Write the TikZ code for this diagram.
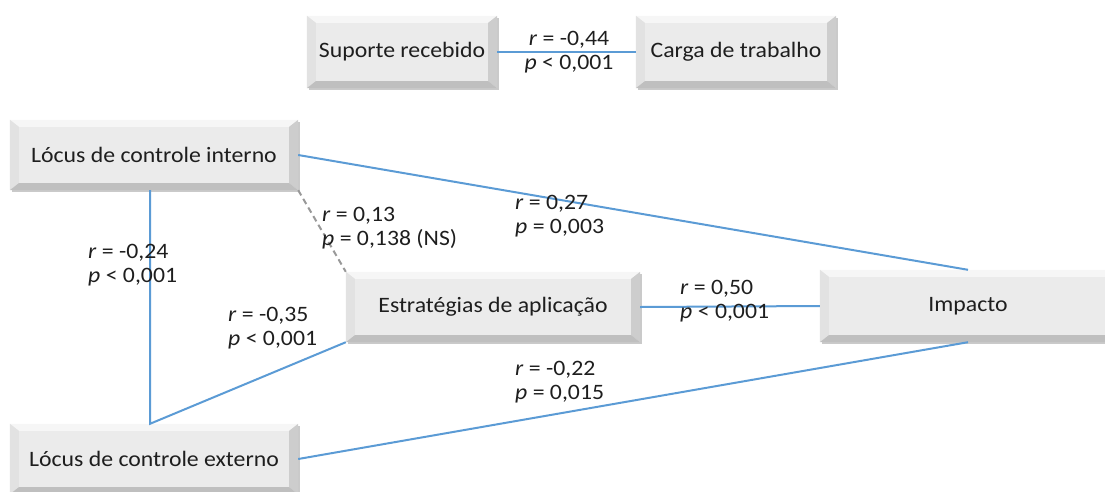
\documentclass[tikz,border=0pt]{standalone}
\usepackage{fontspec}
\setmainfont{Carlito}[FakeStretch=1.08]
\usetikzlibrary{shadows}
\definecolor{face}{HTML}{EBEBEB}
\definecolor{bvtop}{HTML}{F6F6F6}
\definecolor{bvleft}{HTML}{E2E2E2}
\definecolor{bvright}{HTML}{CDCDCD}
\definecolor{bvbot}{HTML}{BFBFBF}
\definecolor{linkblue}{HTML}{5B9BD5}
\definecolor{txt}{HTML}{1E1E1E}
\newcommand\bw{9}
\newcommand\bh{7}
\newcommand\bevel[1]{%
  \fill[bvtop] (#1.north west) -- (#1.north east) -- ([shift={(-\bw,\bh)}]#1.north east) -- ([shift={(\bw,\bh)}]#1.north west) -- cycle;
  \fill[bvleft] (#1.north west) -- ([shift={(\bw,\bh)}]#1.north west) -- ([shift={(\bw,-\bh)}]#1.south west) -- (#1.south west) -- cycle;
  \fill[bvright] (#1.north east) -- ([shift={(-\bw,\bh)}]#1.north east) -- ([shift={(-\bw,-\bh)}]#1.south east) -- (#1.south east) -- cycle;
  \fill[bvbot] (#1.south west) -- ([shift={(\bw,-\bh)}]#1.south west) -- ([shift={(-\bw,-\bh)}]#1.south east) -- (#1.south east) -- cycle;
  \node[txt] at (#1.center) {\csname lbl#1\endcsname};}
\tikzset{
  box/.style={fill=face, inner sep=0, text=txt,
    drop shadow={shadow xshift=2pt, shadow yshift=-2pt, opacity=0.35, fill=black!60}},
  link/.style={draw=linkblue, line width=2pt},
  nslink/.style={draw=gray!80, line width=2pt, dash pattern=on 6pt off 4pt},
  stat/.style={text=txt, inner sep=0, align=left, anchor=west,
    font=\fontsize{22}{24}\selectfont}
}
\begin{document}
\begin{tikzpicture}[x=1pt,y=-1pt,font=\fontsize{22}{24}\selectfont]
\useasboundingbox (0,0) rectangle (1105,491);
\node[box, minimum width=190pt, minimum height=72pt] (sup) at (402,52) {};
\node[box, minimum width=200pt, minimum height=72pt] (car) at (736,52) {};
\node[box, minimum width=288pt, minimum height=70pt] (int) at (154,155) {};
\node[box, minimum width=294pt, minimum height=70pt] (est) at (493,307) {};
\node[box, minimum width=296pt, minimum height=72pt] (imp) at (968,306) {};
\node[box, minimum width=288pt, minimum height=70pt] (ext) at (154,459) {};
\def\lblsup{Suporte recebido}
\def\lblcar{Carga de trabalho}
\def\lblint{Lócus de controle interno}
\def\lblest{Estratégias de aplicação}
\def\lblimp{Impacto}
\def\lblext{Lócus de controle externo}
\bevel{sup}\bevel{car}\bevel{int}\bevel{est}\bevel{imp}\bevel{ext}

\draw[link] (sup.east) -- (car.west);
\draw[link] (int.east) -- (imp.north);
\draw[link] ([xshift=-4]int.south) -- ([xshift=-4]ext.north) -- (est.south west);
\draw[nslink] (int.south east) -- (est.north west);
\draw[link] (est.east) -- (imp.west);
\draw[link] (ext.east) -- (imp.south);

\node[stat, align=center, anchor=center] (s1) at (569,52) {\textit{r} = -0,44\\\textit{p} < 0,001};
\node[stat] (s2) at (515,216) {\textit{r} = 0,27\\\textit{p} = 0,003};
\node[stat] (s3) at (88,265) {\textit{r} = -0,24\\\textit{p} < 0,001};
\node[stat] (s4) at (322,228) {\textit{r} = 0,13\\\textit{p} = 0,138 (NS)};
\node[stat] (s5) at (228,328) {\textit{r} = -0,35\\\textit{p} < 0,001};
\node[stat] (s6) at (680,301) {\textit{r} = 0,50\\\textit{p} < 0,001};
\node[stat] (s7) at (515,382) {\textit{r} = -0,22\\\textit{p} = 0,015};
\end{tikzpicture}
\end{document}
